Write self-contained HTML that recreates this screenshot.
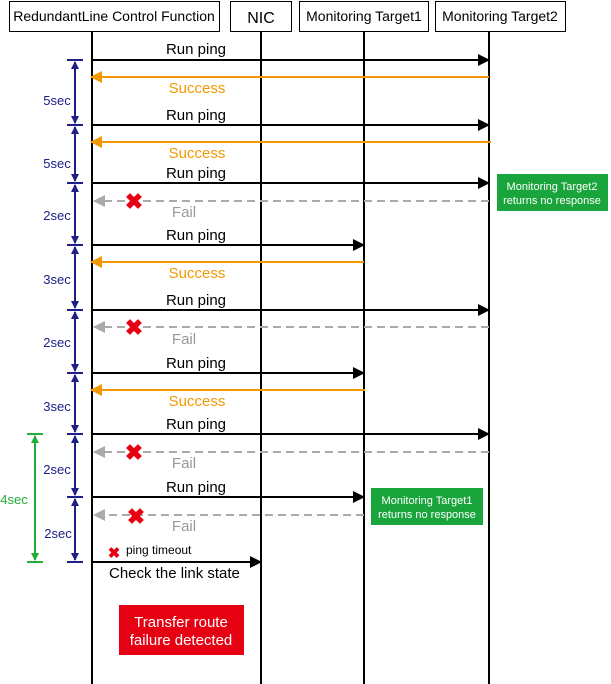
<!DOCTYPE html>
<html><head><style>body{margin:0;background:#fff}svg{display:block}text{font-family:"Liberation Sans",Arial,sans-serif}</style></head><body>
<svg width="611" height="684" viewBox="0 0 611 684" xmlns="http://www.w3.org/2000/svg">
<defs>
<marker id="ab" markerWidth="12" markerHeight="12" refX="11" refY="6" orient="auto" markerUnits="userSpaceOnUse"><path d="M0,0 L12,6 L0,12z" fill="#000"/></marker>
<marker id="ao" markerWidth="12" markerHeight="12" refX="11" refY="6" orient="auto" markerUnits="userSpaceOnUse"><path d="M0,0 L12,6 L0,12z" fill="#f39800"/></marker>
<marker id="ag" markerWidth="12" markerHeight="12" refX="11" refY="6" orient="auto" markerUnits="userSpaceOnUse"><path d="M0,0 L12,6 L0,12z" fill="#aaa"/></marker>
<marker id="bl" markerWidth="8" markerHeight="8" refX="7" refY="4" orient="auto" markerUnits="userSpaceOnUse"><path d="M0,0 L8,4 L0,8z" fill="#1d2088"/></marker>
<marker id="gr" markerWidth="8" markerHeight="8" refX="7" refY="4" orient="auto" markerUnits="userSpaceOnUse"><path d="M0,0 L8,4 L0,8z" fill="#22ac38"/></marker>
</defs>
<g fill="#fff" stroke="#000" stroke-width="1">
<rect x="9.5" y="1.5" width="210" height="30"/>
<rect x="230.5" y="1.5" width="61" height="30"/>
<rect x="299.5" y="1.5" width="129" height="30"/>
<rect x="435.5" y="1.5" width="130" height="30"/>
</g>
<g font-size="14" text-anchor="middle">
<text x="114" y="21">RedundantLine Control Function</text>
<text x="261" y="23" font-size="16">NIC</text>
<text x="364" y="21">Monitoring Target1</text>
<text x="500" y="21">Monitoring Target2</text>
</g>
<g stroke="#000" stroke-width="2">
<line x1="92" y1="32" x2="92" y2="684"/><line x1="261" y1="32" x2="261" y2="684"/>
<line x1="364" y1="32" x2="364" y2="684"/><line x1="489" y1="32" x2="489" y2="684"/>
</g>
<g stroke="#000" stroke-width="2" marker-end="url(#ab)">
<line x1="92" y1="60" x2="489" y2="60"/><line x1="92" y1="125" x2="489" y2="125"/>
<line x1="92" y1="183" x2="489" y2="183"/><line x1="92" y1="245" x2="364" y2="245"/>
<line x1="92" y1="310" x2="489" y2="310"/><line x1="92" y1="373" x2="364" y2="373"/>
<line x1="92" y1="434" x2="489" y2="434"/><line x1="92" y1="497" x2="364" y2="497"/>
<line x1="92" y1="562" x2="261" y2="562"/>
</g>
<g stroke="#f39800" stroke-width="2" marker-end="url(#ao)">
<line x1="489" y1="77" x2="91" y2="77"/><line x1="491" y1="142" x2="91" y2="142"/>
<line x1="364" y1="262" x2="91" y2="262"/><line x1="365" y1="390" x2="91" y2="390"/>
</g>
<g stroke="#aaa" stroke-width="2" stroke-dasharray="8,5" marker-end="url(#ag)">
<line x1="489" y1="201" x2="94" y2="201"/><line x1="489" y1="327" x2="94" y2="327"/>
<line x1="489" y1="452" x2="94" y2="452"/><line x1="364" y1="515" x2="94" y2="515"/>
</g>
<g fill="#e60012" font-size="22" font-weight="bold" text-anchor="middle">
<text x="134" y="209">✖</text><text x="134" y="335">✖</text><text x="134" y="460">✖</text><text x="136" y="524">✖</text>
<text x="114" y="558" font-size="15">✖</text>
</g>
<g font-size="15" text-anchor="middle" fill="#000">
<text x="196" y="54">Run ping</text><text x="196" y="120">Run ping</text><text x="196" y="178">Run ping</text>
<text x="196" y="240">Run ping</text><text x="196" y="305">Run ping</text><text x="196" y="368">Run ping</text>
<text x="196" y="429">Run ping</text><text x="196" y="492">Run ping</text>
</g>
<text x="109" y="578" font-size="15">Check the link state</text>
<text x="126" y="554" font-size="12">ping timeout</text>
<g font-size="15" text-anchor="middle" fill="#f39800">
<text x="197" y="93">Success</text><text x="197" y="158">Success</text><text x="197" y="278">Success</text><text x="197" y="406">Success</text>
</g>
<g font-size="15" text-anchor="middle" fill="#999">
<text x="184" y="217">Fail</text><text x="184" y="344">Fail</text><text x="184" y="468">Fail</text><text x="184" y="531">Fail</text>
</g>
<g stroke="#1d2088" stroke-width="2" marker-end="url(#bl)" marker-start="url(#bl)">
<line x1="75" y1="62" x2="75" y2="123" marker-start="none"/>
<line x1="75" y1="123" x2="75" y2="62" marker-start="none"/>
<line x1="75" y1="127" x2="75" y2="181" marker-start="none"/><line x1="75" y1="181" x2="75" y2="127" marker-start="none"/>
<line x1="75" y1="185" x2="75" y2="243" marker-start="none"/><line x1="75" y1="243" x2="75" y2="185" marker-start="none"/>
<line x1="75" y1="247" x2="75" y2="308" marker-start="none"/><line x1="75" y1="308" x2="75" y2="247" marker-start="none"/>
<line x1="75" y1="312" x2="75" y2="371" marker-start="none"/><line x1="75" y1="371" x2="75" y2="312" marker-start="none"/>
<line x1="75" y1="375" x2="75" y2="432" marker-start="none"/><line x1="75" y1="432" x2="75" y2="375" marker-start="none"/>
<line x1="75" y1="436" x2="75" y2="495" marker-start="none"/><line x1="75" y1="495" x2="75" y2="436" marker-start="none"/>
<line x1="75" y1="499" x2="75" y2="560" marker-start="none"/><line x1="75" y1="560" x2="75" y2="499" marker-start="none"/>
</g>
<g stroke="#1d2088" stroke-width="2">
<line x1="67" y1="60" x2="83" y2="60"/><line x1="67" y1="125" x2="83" y2="125"/><line x1="67" y1="183" x2="83" y2="183"/>
<line x1="67" y1="245" x2="83" y2="245"/><line x1="67" y1="310" x2="83" y2="310"/><line x1="67" y1="373" x2="83" y2="373"/>
<line x1="67" y1="434" x2="83" y2="434"/><line x1="67" y1="497" x2="83" y2="497"/><line x1="67" y1="562" x2="83" y2="562"/>
</g>
<g fill="#1d2088" font-size="13" text-anchor="middle">
<text x="57" y="105">5sec</text><text x="57" y="168">5sec</text><text x="57" y="220">2sec</text><text x="57" y="284">3sec</text>
<text x="57" y="347">2sec</text><text x="57" y="411">3sec</text><text x="57" y="474">2sec</text><text x="58" y="538">2sec</text>
</g>
<g stroke="#22ac38" stroke-width="2">
<line x1="35" y1="436" x2="35" y2="560" marker-end="url(#gr)"/><line x1="35" y1="560" x2="35" y2="436" marker-end="url(#gr)"/>
<line x1="27" y1="434" x2="43" y2="434"/><line x1="27" y1="562" x2="43" y2="562"/>
</g>
<text x="14" y="504" font-size="13" fill="#22ac38" text-anchor="middle">4sec</text>
<rect x="497" y="174" width="111" height="37" fill="#1aa53c"/>
<text x="552" y="190" font-size="11" fill="#fff" text-anchor="middle">Monitoring Target2</text>
<text x="552" y="204" font-size="11" fill="#fff" text-anchor="middle">returns no response</text>
<rect x="371" y="488" width="112" height="37" fill="#1aa53c"/>
<text x="427" y="504" font-size="11" fill="#fff" text-anchor="middle">Monitoring Target1</text>
<text x="427" y="518" font-size="11" fill="#fff" text-anchor="middle">returns no response</text>
<rect x="119" y="605" width="125" height="50" fill="#e60012"/>
<text x="181" y="627" font-size="15" fill="#fff" text-anchor="middle">Transfer route</text>
<text x="181" y="645" font-size="15" fill="#fff" text-anchor="middle">failure detected</text>
</svg>
</body></html>
